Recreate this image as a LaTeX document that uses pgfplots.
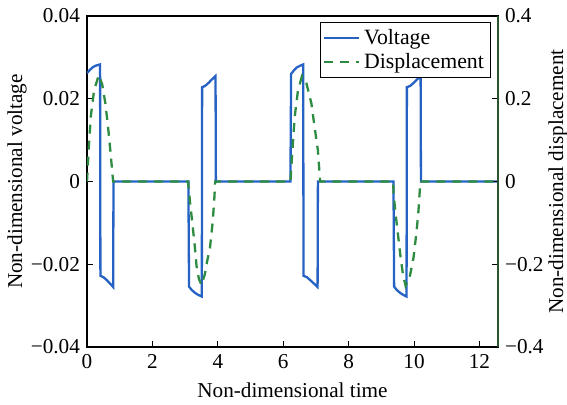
\documentclass[border=0pt]{standalone}
\usepackage{fontspec}
\setmainfont{Liberation Serif}
\usepackage{pgfplots}
\pgfplotsset{compat=1.18}
\definecolor{vblue}{RGB}{38,98,196}
\definecolor{dgreen}{RGB}{46,140,66}
\definecolor{spgreen}{RGB}{40,85,45}
\begin{document}
\begin{tikzpicture}
\useasboundingbox (-43.5pt,-28.5pt) rectangle (240pt,173.5pt);
\pgfplotsset{
  every axis/.append style={
    scale only axis, width=205.5pt, height=165.5pt,
    at={(0pt,0pt)}, anchor=south west,
    xmin=0, xmax=12.566,
    tick align=inside, major tick length=3pt,
    every tick/.style={black, line width=0.5pt},
    axis line style={line width=0.7pt},
    font=\fontsize{10.6}{12.7}\selectfont,
    tick label style={font=\fontsize{10.6}{12.7}\selectfont},
    label style={font=\fontsize{10.6}{12.7}\selectfont},
    /pgf/number format/assume math mode=true,
    scaled ticks=false,
    clip=true,
  }
}
\begin{axis}[
  ymin=-0.04, ymax=0.04,
  xtick={0,2,4,6,8,10,12},
  xticklabels={0,2,4,6,8,10,12},
  xtick pos=lower, ytick pos=left,
  ytick={-0.04,-0.02,0,0.02,0.04},
  yticklabels={−0.04,−0.02,0,0.02,0.04},
  xlabel={Non-dimensional time},
  ylabel={Non-dimensional voltage},
  xlabel style={at={(axis description cs:0.5,-0.132)}, anchor=center},
  ylabel style={at={(axis description cs:-0.170,0.5)}, anchor=center, rotate=0},
]
\addplot[vblue, line width=1.15pt] coordinates {
(0,0.0262)(0.09,0.0270)(0.19,0.0277)(0.30,0.0281)(0.40,0.0283)
(0.41,-0.0228)(0.50,-0.0231)(0.60,-0.0238)(0.70,-0.0246)(0.80,-0.0255)(0.81,0)
(3.10,0)
(3.12,-0.0254)(3.20,-0.0262)(3.30,-0.0269)(3.40,-0.0274)(3.51,-0.0278)
(3.52,0.0228)(3.61,0.0231)(3.71,0.0238)(3.81,0.0246)(3.93,0.0255)(3.94,0)
(6.22,0)
(6.24,0.0260)(6.32,0.0268)(6.42,0.0276)(6.52,0.0280)(6.61,0.0283)
(6.62,-0.0228)(6.72,-0.0231)(6.82,-0.0238)(6.93,-0.0246)(7.05,-0.0255)(7.06,0)
(9.37,0)
(9.39,-0.0254)(9.47,-0.0262)(9.57,-0.0269)(9.67,-0.0274)(9.77,-0.0278)
(9.78,0.0228)(9.88,0.0231)(9.98,0.0238)(10.08,0.0246)(10.20,0.0255)(10.21,0)
(12.566,0)
};
\end{axis}
\begin{axis}[
  ymin=-0.4, ymax=0.4,
  axis x line=none,
  axis y line*=right,
  y axis line style={spgreen, line width=0.7pt},
  ytick={-0.4,-0.2,0,0.2,0.4},
  yticklabels={−0.4,−0.2,0,0.2,0.4},
  ylabel={Non-dimensional displacement},
  ylabel style={at={(axis description cs:1.146,0.5)}, anchor=center, rotate=0},
  legend style={at={(rel axis cs:0.983,0.982)}, anchor=north east, draw=black,
    line width=0.7pt, font=\fontsize{10.9}{12.8}\selectfont, inner sep=1.2pt,
    row sep=-1pt, cells={anchor=west}},
  legend image code/.code={\draw[#1] (0pt,0pt) -- (17.5pt,0pt);},
]
\addlegendimage{vblue, line width=1.15pt}
\addlegendentry{Voltage}
\addplot[dgreen, line width=1.15pt, dash pattern=on 4.5pt off 3.5pt] coordinates {
(0,0)(0.056,0.085)(0.12,0.16)(0.216,0.22)(0.36,0.257)(0.464,0.235)(0.56,0.19)(0.64,0.135)(0.72,0.07)(0.776,0.02)(0.80,0)
(3.09,0)(3.15,-0.05)(3.22,-0.10)(3.30,-0.16)(3.35,-0.205)(3.42,-0.235)(3.50,-0.25)(3.60,-0.225)(3.68,-0.19)(3.76,-0.16)(3.84,-0.10)(3.89,-0.046)(3.91,-0.014)(3.92,0)
(6.22,0)(6.28,0.075)(6.35,0.156)(6.45,0.22)(6.57,0.254)(6.71,0.237)(6.86,0.189)(6.96,0.131)(7.06,0.075)(7.11,0.019)(7.13,0)
(9.36,0)(9.374,-0.030)(9.435,-0.078)(9.506,-0.127)(9.588,-0.183)(9.659,-0.224)(9.740,-0.252)(9.863,-0.232)(9.985,-0.183)(10.067,-0.127)(10.128,-0.078)(10.168,-0.030)(10.19,0)
(12.566,0)
};
\addlegendentry{Displacement}
\end{axis}
\end{tikzpicture}
\end{document}
